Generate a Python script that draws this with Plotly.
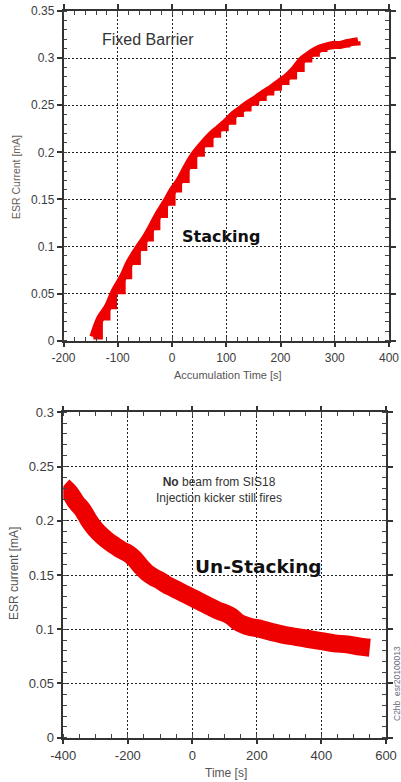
import plotly.graph_objects as go

# ---- Stacking with fixed barrier: ESR current vs accumulation time (staircase) ----
stack_time_s = [-145, -132, -118, -106, -90, -78, -62, -50, -38, -26, -12, 2, 14, 28,
                42, 56, 72, 86, 100, 114, 128, 142, 156, 170, 184, 198, 212, 226,
                240, 254, 268, 282, 296, 310, 324, 343]
stack_current_mA = [0.004, 0.024, 0.036, 0.052, 0.068, 0.083, 0.098, 0.108, 0.120, 0.133,
                    0.146, 0.160, 0.170, 0.185, 0.198, 0.208, 0.218, 0.225, 0.232, 0.240,
                    0.246, 0.252, 0.257, 0.263, 0.268, 0.274, 0.280, 0.288, 0.298, 0.304,
                    0.309, 0.312, 0.314, 0.314, 0.316, 0.318]

# ---- Un-stacking: no beam from SIS18, injection kicker still fires ----
unstack_time_s = [-400, -380, -360, -340, -320, -300, -280, -260, -240, -220, -200, -180,
                  -160, -140, -120, -100, -80, -60, -40, -20, 0, 20, 40, 60, 80, 100, 120,
                  140, 160, 180, 200, 240, 280, 320, 360, 400, 440, 480, 520, 550]
unstack_current_mA = [0.232, 0.226, 0.217, 0.210, 0.200, 0.192, 0.186, 0.181, 0.177, 0.173,
                      0.170, 0.165, 0.158, 0.152, 0.148, 0.145, 0.141, 0.138, 0.135, 0.132,
                      0.129, 0.126, 0.123, 0.120, 0.117, 0.115, 0.112, 0.107, 0.104, 0.102,
                      0.101, 0.098, 0.095, 0.093, 0.091, 0.089, 0.087, 0.086, 0.084, 0.083]

top_x_ticks = [-200, -100, 0, 100, 200, 300, 400]
top_y_ticks = [0, 0.05, 0.1, 0.15, 0.2, 0.25, 0.3, 0.35]
bot_x_ticks = [-400, -200, 0, 200, 400, 600]
bot_y_ticks = [0, 0.05, 0.1, 0.15, 0.2, 0.25, 0.3]

W, H = 401, 782
RED = "#ee0000"
AXIS = "#333333"
TICKFONT_COLOR = "#3c3c3c"
FONT = "Liberation Sans, Arial, sans-serif"


def px(x):
    return x / W


def py(y):
    return 1 - y / H


def axis_style(ticks, minor_dtick, font_size):
    return dict(
        tickmode="array", tickvals=ticks, ticktext=[f"{t:g}" for t in ticks],
        automargin=False,
        showline=True, linecolor=AXIS, linewidth=1.5, mirror="allticks",
        ticks="outside", ticklen=5, tickwidth=1.5, tickcolor=AXIS,
        showgrid=True, gridcolor="#222222", gridwidth=1, griddash="2px,2px",
        zeroline=False,
        tickfont=dict(family=FONT, size=font_size, color=TICKFONT_COLOR),
        minor=dict(dtick=minor_dtick, ticks="inside", ticklen=4, tickwidth=1,
                   tickcolor="#444444", showgrid=False),
    )


fig = go.Figure()

# stacked current: a smooth band plus the injection steps on top of it
fig.add_trace(go.Scatter(
    x=stack_time_s, y=stack_current_mA, mode="lines",
    line=dict(color=RED, width=8, shape="spline"),
    xaxis="x", yaxis="y", showlegend=False, hoverinfo="skip",
))
fig.add_trace(go.Scatter(
    x=stack_time_s, y=stack_current_mA, mode="lines",
    line=dict(color=RED, width=5, shape="hv"),
    xaxis="x", yaxis="y", showlegend=False,
))
# decaying current without injections
fig.add_trace(go.Scatter(
    x=unstack_time_s, y=unstack_current_mA, mode="lines",
    line=dict(color=RED, width=18, shape="spline"),
    xaxis="x2", yaxis="y2", showlegend=False,
))

xa = axis_style(top_x_ticks, 20, 12)
xa.update(range=[-200, 400], domain=[px(63.5), px(389)], anchor="y")
ya = axis_style(top_y_ticks, 0.01, 12)
ya.update(range=[0, 0.35], domain=[py(340.7), py(11)], anchor="x")

xb = axis_style(bot_x_ticks, 50, 13)
xb.update(range=[-400, 600], domain=[px(63.3), px(386)], anchor="y2")
yb = axis_style(bot_y_ticks, 0.01, 13)
yb.update(range=[0, 0.3], domain=[py(737.7), py(412.3)], anchor="x2")

annotations = [
    # axis titles
    dict(text="ESR Current [mA]", x=px(16), y=py(177), textangle=-90,
         font=dict(family=FONT, size=10.5, color="#6a6058")),
    dict(text="Accumulation Time [s]", x=px(228), y=py(375),
         font=dict(family=FONT, size=11, color="#555555")),
    dict(text="ESR current [mA]", x=px(14), y=py(574), textangle=-90,
         font=dict(family=FONT, size=12, color="#555555")),
    dict(text="Time [s]", x=px(226.5), y=py(773),
         font=dict(family=FONT, size=12, color="#555555")),
    # run identifier along the right edge
    dict(text="C2hb_esr20100013", x=px(397), y=py(684), textangle=-90,
         font=dict(family=FONT, size=8.5, color="#6a6f80")),
]
for a in annotations:
    a.update(xref="paper", yref="paper", showarrow=False,
             xanchor="center", yanchor="middle")

# in-plot labels
annotations += [
    dict(text="Fixed Barrier", x=-45, y=0.32, xref="x", yref="y",
         font=dict(family=FONT, size=16, color="#333333")),
    dict(text="Stacking", x=91, y=0.111, xref="x", yref="y",
         font=dict(family="DejaVu Sans", size=16, color="#111111", weight="bold")),
    dict(text="<b>No</b> beam from SIS18<br>Injection kicker still fires",
         x=82, y=0.228, xref="x2", yref="y2",
         font=dict(family=FONT, size=12, color="#333333")),
    dict(text="Un-Stacking", x=205, y=0.158, xref="x2", yref="y2",
         font=dict(family="DejaVu Sans", size=18.5, color="#111111", weight="bold")),
]
for a in annotations[5:]:
    a.update(showarrow=False, xanchor="center", yanchor="middle")

fig.update_layout(
    width=W, height=H,
    margin=dict(l=0, r=0, t=0, b=0),
    paper_bgcolor="white", plot_bgcolor="white",
    xaxis=xa, yaxis=ya, xaxis2=xb, yaxis2=yb,
    annotations=annotations,
    showlegend=False,
)

fig.write_html("out.html")
